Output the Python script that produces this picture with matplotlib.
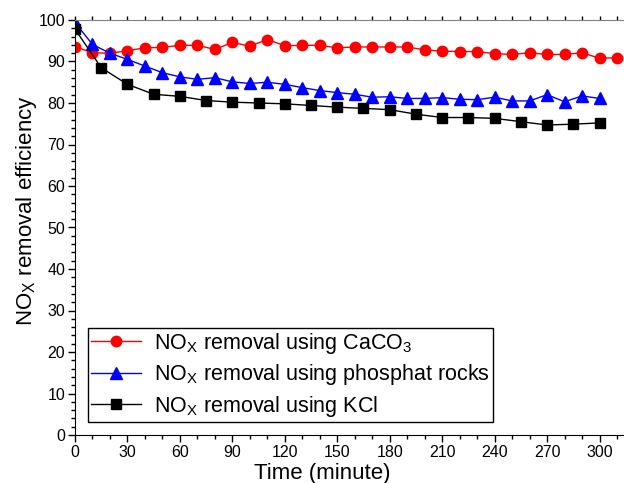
import matplotlib
matplotlib.use("Agg")
import matplotlib.pyplot as plt
from matplotlib.ticker import MultipleLocator

# ── Data ─────────────────────────────────────────────────────────────────────
t_caco3 = list(range(0, 311, 10))
y_caco3 = [93.6, 92.1, 92.0, 92.6, 93.3, 93.4, 93.9, 93.9, 92.9, 94.6,
           93.7, 95.3, 93.8, 93.9, 93.9, 93.3, 93.5, 93.5, 93.5, 93.5,
           92.8, 92.5, 92.4, 92.4, 91.9, 91.7, 92.1, 91.7, 91.7, 92.1,
           90.8, 90.9]

t_rock = list(range(0, 301, 10))
y_rock = [99.4, 94.1, 92.0, 90.5, 88.9, 87.3, 86.3, 85.7, 86.1, 85.1,
          84.7, 85.0, 84.5, 83.7, 83.0, 82.5, 82.1, 81.4, 81.5, 81.1,
          81.1, 81.3, 80.9, 80.8, 81.4, 80.5, 80.5, 82.0, 80.3, 81.7,
          81.1]

t_kcl = list(range(0, 301, 15))
y_kcl = [97.8, 88.5, 84.5, 82.1, 81.6, 80.6, 80.2, 80.0, 79.8, 79.4,
         79.0, 78.7, 78.4, 77.3, 76.5, 76.5, 76.3, 75.5, 74.7, 74.9,
         75.2]

labels = ["NO$_\\mathrm{X}$ removal using CaCO$_\\mathrm{3}$",
          "NO$_\\mathrm{X}$ removal using phosphat rocks",
          "NO$_\\mathrm{X}$ removal using KCl"]

plt.rcParams["font.family"] = ["Liberation Sans", "DejaVu Sans"]
plt.rcParams["mathtext.fontset"] = "custom"
plt.rcParams["mathtext.rm"] = "Liberation Sans"
plt.rcParams["mathtext.it"] = "Liberation Sans:italic"

fig = plt.figure(figsize=(6.24, 4.83), dpi=100)
ax = fig.add_axes([75 / 624, 1 - 435 / 483, 549 / 624, 415 / 483])

ax.plot(t_caco3, y_caco3, color="#ff0000", lw=1.0, marker="o", ms=7.5,
        mec="#ff0000", label=labels[0])
ax.plot(t_rock, y_rock, color="#0000ff", lw=1.0, marker="^", ms=8,
        mec="#0000ff", label=labels[1])
ax.plot(t_kcl, y_kcl, color="black", lw=1.0, marker="s", ms=6.5,
        label=labels[2])

ax.set_xlim(0, 314)
ax.set_ylim(0, 100)
ax.xaxis.set_major_locator(MultipleLocator(30))
ax.xaxis.set_minor_locator(MultipleLocator(10))
ax.yaxis.set_major_locator(MultipleLocator(10))
ax.yaxis.set_minor_locator(MultipleLocator(2))

ax.spines["right"].set_visible(False)
ax.spines["top"].set_color("#808080")
ax.tick_params(which="both", direction="out", labelsize=11.5, width=1.0)
ax.tick_params(which="major", length=5, pad=2)
ax.tick_params(which="minor", length=3)
ax.tick_params(axis="x", which="both", top=True, labeltop=False)
# grey ticks along the top edge
for tk in ax.xaxis.get_major_ticks() + ax.xaxis.get_minor_ticks():
    tk.tick2line.set_color("#808080")
    tk.tick2line.set_markersize(3)

ax.set_xlabel("Time (minute)", fontsize=16)
ax.xaxis.set_label_coords(0.45, -0.068)
ax.set_ylabel("NO$_\\mathrm{X}$ removal efficiency", fontsize=16)
ax.yaxis.set_label_coords(-0.066, 0.54)

leg = ax.legend(loc="lower left", bbox_to_anchor=(0.024, 0.031),
                borderaxespad=0, fontsize=15.5, fancybox=False,
                edgecolor="black", framealpha=1, handlelength=2.3,
                handletextpad=0.6, borderpad=0.15, labelspacing=0.3)
leg.get_frame().set_linewidth(1.0)

fig.savefig("out.png", dpi=100)
